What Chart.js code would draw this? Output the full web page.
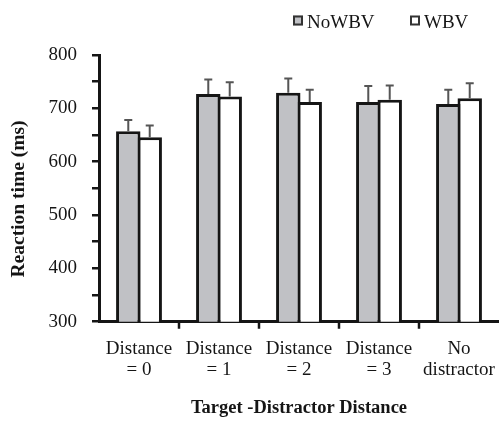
<!DOCTYPE html>
<html>
<head>
<meta charset="utf-8">
<title>Reaction time by target-distractor distance</title>
<script src="https://cdn.jsdelivr.net/npm/chart.js@4/dist/chart.umd.min.js"></script>
<style>
  html, body { margin: 0; padding: 0; background: #ffffff; }
  #wrap { width: 499px; height: 421px; }
</style>
</head>
<body>
<div id="wrap"><canvas id="chart" width="499" height="421"></canvas></div>
<script>
// Categories (two-line tick labels)
const categories = [
  ['Distance', '= 0'],
  ['Distance', '= 1'],
  ['Distance', '= 2'],
  ['Distance', '= 3'],
  ['No', 'distractor']
];

// Series
const seriesNames = ['NoWBV', 'WBV'];
const noWBV = [657, 727, 729, 712, 708];
const wbv = [646, 722, 712, 716, 719];
// Upper error bars (ms)
const noWBVErr = [21, 27, 27, 30, 27];
const wbvErr = [22, 27, 23, 27, 28];

// Axis range and tick labels
const yMin = 300;
const yMax = 800;
const yStep = 50;
const yLabelStep = 100;
const yTitle = 'Reaction time (ms)';
const xTitle = 'Target -Distractor Distance';

const INK = '#151515';
const GRAY = '#c0c1c5';
const SERIF = "'Liberation Serif', 'Times New Roman', serif";

// One-sided (upward) error bars drawn from each bar's top
const errorBars = {
  id: 'errorBars',
  afterDatasetsDraw(chart) {
    const { ctx, scales: { y } } = chart;
    chart.data.datasets.forEach((ds, di) => {
      const meta = chart.getDatasetMeta(di);
      meta.data.forEach((bar, i) => {
        const top = y.getPixelForValue(ds.data[i] + ds.errors[i]);
        const x = bar.x;
        ctx.save();
        ctx.strokeStyle = '#555555';
        ctx.lineWidth = 2;
        ctx.beginPath();
        ctx.moveTo(x, bar.y);
        ctx.lineTo(x, top);
        ctx.moveTo(x - 4, top);
        ctx.lineTo(x + 4, top);
        ctx.stroke();
        ctx.restore();
      });
    });
  }
};

// Category divider ticks under the x axis, rotated y-axis title and the legend
const annotations = {
  id: 'annotations',
  afterDraw(chart) {
    const { ctx, scales: { x }, chartArea } = chart;
    ctx.save();
    ctx.strokeStyle = INK;
    ctx.lineWidth = 2.5;
    ctx.beginPath();
    for (let i = 1; i < categories.length; i++) {
      const px = (x.getPixelForValue(i - 1) + x.getPixelForValue(i)) / 2;
      ctx.moveTo(px, chartArea.bottom);
      ctx.lineTo(px, chartArea.bottom + 7);
    }
    ctx.stroke();
    ctx.restore();

    ctx.save();
    ctx.fillStyle = INK;
    ctx.font = `bold 19.5px ${SERIF}`;
    ctx.textAlign = 'center';
    ctx.textBaseline = 'middle';
    ctx.translate(18.5, 199);
    ctx.rotate(-Math.PI / 2);
    ctx.fillText(yTitle, 0, 0);
    ctx.restore();

    const items = [
      { text: seriesNames[0], fill: GRAY, boxX: 293 },
      { text: seriesNames[1], fill: '#ffffff', boxX: 410 }
    ];
    ctx.save();
    ctx.font = `19px ${SERIF}`;
    ctx.textBaseline = 'alphabetic';
    ctx.textAlign = 'left';
    items.forEach(it => {
      ctx.fillStyle = it.fill;
      ctx.fillRect(it.boxX, 15.5, 10, 10);
      ctx.strokeStyle = '#333333';
      ctx.lineWidth = 2;
      ctx.strokeRect(it.boxX + 1, 16.5, 8, 8);
      ctx.fillStyle = INK;
      ctx.fillText(it.text, it.boxX + 14, 27.5);
    });
    ctx.restore();
  }
};

const barStyle = {
  borderColor: INK,
  borderWidth: 3,
  borderSkipped: 'start',
  categoryPercentage: 0.536,
  barPercentage: 1.14
};

new Chart(document.getElementById('chart'), {
  type: 'bar',
  data: {
    labels: categories,
    datasets: [
      Object.assign({ label: seriesNames[0], data: noWBV, errors: noWBVErr, backgroundColor: GRAY }, barStyle),
      Object.assign({ label: seriesNames[1], data: wbv, errors: wbvErr, backgroundColor: '#ffffff' }, barStyle)
    ]
  },
  options: {
    responsive: false,
    devicePixelRatio: 1,
    animation: false,
    layout: { padding: { top: 55, left: 0, right: 0, bottom: 0 } },
    plugins: {
      legend: { display: false },
      tooltip: { enabled: false }
    },
    scales: {
      x: {
        type: 'category',
        z: 1,
        offset: true,
        grid: {
          display: false,
          drawTicks: true,
          tickLength: 7
        },
        border: { display: true, color: INK, width: 3 },
        ticks: {
          color: INK,
          font: { family: SERIF, size: 19, lineHeight: 1.11 },
          padding: 10,
          maxRotation: 0,
          minRotation: 0,
          autoSkip: false
        },
        title: {
          display: true,
          text: xTitle,
          color: INK,
          font: { family: SERIF, size: 18.5, weight: 'bold', lineHeight: 1.2 },
          padding: { top: 0, bottom: 2 }
        },
        afterFit(s) {
          s.height = 99.3;
          s.paddingLeft = 0;
          s.paddingRight = 0;
        }
      },
      y: {
        min: yMin,
        max: yMax,
        z: 1,
        grid: {
          display: true,
          drawOnChartArea: false,
          drawTicks: true,
          tickLength: 7,
          lineWidth: 2.5,
          color: INK
        },
        border: { display: true, color: INK, width: 3 },
        ticks: {
          stepSize: yStep,
          color: INK,
          font: { family: SERIF, size: 19 },
          padding: 15,
          callback: v => (v % yLabelStep === 0 ? String(v) : '')
        },
        afterFit(s) {
          s.width = 99;
          s.paddingTop = 0;
          s.paddingBottom = 0;
        }
      }
    }
  },
  plugins: [errorBars, annotations]
});
</script>
</body>
</html>
